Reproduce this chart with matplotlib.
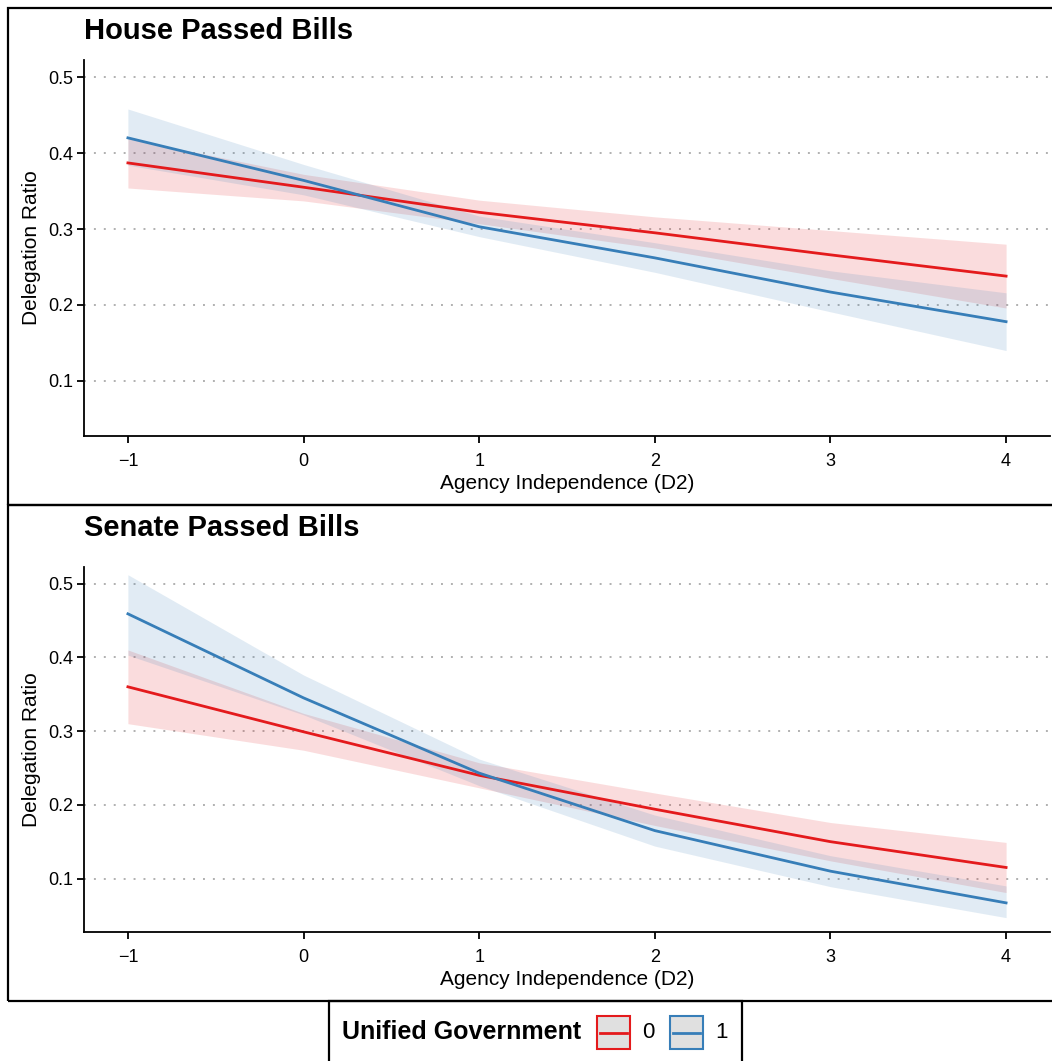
import numpy as np
import matplotlib
matplotlib.use("Agg")
import matplotlib.pyplot as plt
from matplotlib.patches import Rectangle
from matplotlib.lines import Line2D

plt.rcParams['font.family'] = ['Liberation Sans', 'DejaVu Sans']

# ---- data ----
x = [-1, 0, 1, 2, 3, 4]

house_red = [0.387, 0.355, 0.322, 0.295, 0.266, 0.238]
house_red_lo = [0.354, 0.337, 0.307, 0.275, 0.235, 0.196]
house_red_hi = [0.419, 0.372, 0.338, 0.316, 0.298, 0.280]
house_blue = [0.420, 0.364, 0.303, 0.262, 0.217, 0.178]
house_blue_lo = [0.384, 0.345, 0.290, 0.243, 0.191, 0.140]
house_blue_hi = [0.458, 0.385, 0.317, 0.282, 0.245, 0.216]

senate_red = [0.360, 0.299, 0.240, 0.194, 0.150, 0.115]
senate_red_lo = [0.310, 0.274, 0.223, 0.172, 0.124, 0.081]
senate_red_hi = [0.410, 0.324, 0.257, 0.216, 0.176, 0.149]
senate_blue = [0.459, 0.345, 0.243, 0.165, 0.110, 0.067]
senate_blue_lo = [0.403, 0.322, 0.226, 0.144, 0.089, 0.047]
senate_blue_hi = [0.512, 0.376, 0.262, 0.186, 0.131, 0.090]

yticks = [0.1, 0.2, 0.3, 0.4, 0.5]
xticks = [-1, 0, 1, 2, 3, 4]
groups = ['0', '1']
colors = {'0': '#E41A1C', '1': '#377EB8'}

W, H = 1052, 1061
fig = plt.figure(figsize=(W / 100, H / 100), dpi=100)


def px_rect(x0, y0, x1, y1):
    # pixel box (top-left origin) -> figure fraction [left, bottom, w, h]
    return [x0 / W, 1 - y1 / H, (x1 - x0) / W, (y1 - y0) / H]


panels = [
    ("House Passed Bills", 31, (84, 60, 1050, 436),
     house_red, house_red_lo, house_red_hi, house_blue, house_blue_lo, house_blue_hi),
    ("Senate Passed Bills", 528, (84, 567, 1050, 932),
     senate_red, senate_red_lo, senate_red_hi, senate_blue, senate_blue_lo, senate_blue_hi),
]

for title, ty, box, r, rlo, rhi, b, blo, bhi in panels:
    ax = fig.add_axes(px_rect(*box))
    for fit, lo, hi, g in [(r, rlo, rhi, '0'), (b, blo, bhi, '1')]:
        ax.fill_between(x, lo, hi, color=colors[g], alpha=0.15, linewidth=0)
    for fit, g in [(r, '0'), (b, '1')]:
        ax.plot(x, fit, color=colors[g], lw=2)
    ax.set_xlim(-1.25, 4.25)
    ax.set_ylim(0.0275, 0.5225)
    ax.set_xticks(xticks)
    ax.set_xticklabels(['\u22121' if v < 0 else str(v) for v in xticks])
    ax.set_yticks(yticks)
    ax.yaxis.grid(True, linestyle=(0, (1, 4.1)), color='#b0b0b0', lw=1.4)
    ax.set_axisbelow(True)
    for s in ['top', 'right']:
        ax.spines[s].set_visible(False)
    for s in ['left', 'bottom']:
        ax.spines[s].set_linewidth(1.3)
    ax.tick_params(direction='out', length=5, width=1.3, labelsize=13,
                   colors='black', pad=3)
    ax.tick_params(axis='x', pad=7)
    ax.set_xlabel("Agency Independence (D2)", fontsize=15, labelpad=3)
    ax.set_ylabel("Delegation Ratio", fontsize=15, labelpad=5)
    fig.text(84 / W, 1 - ty / H, title, fontsize=21, fontweight='bold',
             va='center', ha='left')

# panel frames
for (y0, y1) in [(8, 505), (505, 1001)]:
    fig.patches.append(Rectangle((8 / W, 1 - y1 / H), (1060 - 8) / W, (y1 - y0) / H,
                                 transform=fig.transFigure, fill=False,
                                 edgecolor='black', lw=1.6))

# legend
fig.patches.append(Rectangle((329 / W, 1 - 1070 / H), (742 - 329) / W, (1070 - 1001) / H,
                             transform=fig.transFigure, fill=False,
                             edgecolor='black', lw=1.6))
fig.text(342 / W, 1 - 1032 / H, "Unified Government", fontsize=18,
         fontweight='bold', va='center', ha='left')
for g, kx, lx in [('0', 597, 642), ('1', 670, 715)]:
    fig.patches.append(Rectangle((kx / W, 1 - 1049 / H), 33 / W, 33 / H,
                                 transform=fig.transFigure, facecolor='#e0e0e0',
                                 edgecolor=colors[g], lw=1.5))
    fig.lines.append(Line2D([(kx + 3) / W, (kx + 30) / W], [1 - 1032.5 / H] * 2,
                            transform=fig.transFigure, color=colors[g], lw=2))
    fig.text(lx / W, 1 - 1032 / H, g, fontsize=16, va='center', ha='left')

fig.savefig("out.png", dpi=100, facecolor='white')
